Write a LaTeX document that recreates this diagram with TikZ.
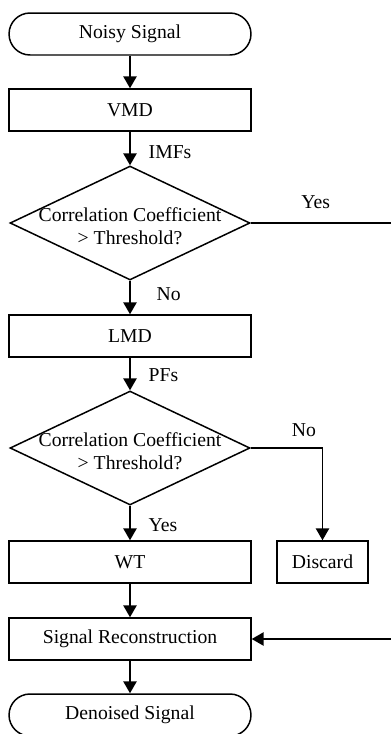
\documentclass[tikz,border=0pt]{standalone}
\usepackage{fontspec}
\setmainfont{Liberation Serif}
\usetikzlibrary{shapes.geometric,arrows.meta,positioning}

\tikzset{
  terminal/.style={draw, line width=0.85pt, rounded corners=0.42cm,
    minimum width=4.84cm, minimum height=0.84cm, inner sep=0pt},
  process/.style={draw, line width=0.85pt,
    minimum width=4.84cm, minimum height=0.84cm, inner sep=0pt},
  decision/.style={draw, diamond, line width=0.85pt,
    minimum width=4.8cm, minimum height=2.28cm, inner sep=0pt},
  flow/.style={line width=0.85pt, -{Triangle[length=6.8pt,width=7.6pt]}},
  link/.style={line width=0.85pt},
  lbl/.style={inner sep=0pt}
}

\begin{document}
\begin{tikzpicture}[x=0.02cm, y=-0.02cm, font=\fontsize{11.2}{13.2}\selectfont]
                \useasboundingbox (0,0) rectangle (390,734);

                % main column
                \node[terminal] (noisy) at (130,34)  {Noisy Signal};
                \node[process]  (vmd)   at (130,110) {VMD};
                \node[decision] (corr1) at (130,223) {};
                \node[align=center, lbl] (corr1txt) at (130,226)
                    {Correlation Coefficient\\> Threshold?};
                \node[process]  (lmd)   at (130,336) {LMD};
                \node[decision] (corr2) at (130,448) {};
                \node[align=center, lbl] (corr2txt) at (130,451)
                    {Correlation Coefficient\\> Threshold?};
                \node[process]  (wt)    at (130,562) {WT};
                \node[process, minimum width=1.82cm] (discard) at (322.5,562) {Discard};
                \node[process]  (recon) at (130,639) {Signal Reconstruction};
                \node[terminal] (denoised) at (130,715) {Denoised Signal};

                % free ends at the right margin
                \coordinate (yesout) at (392,223);
                \coordinate (yesin)  at (392,639);

                \draw[flow] (noisy) -- (vmd);
                \draw[flow] (vmd) -- node[lbl, right=0.36cm, pos=0.62] (imfs) {IMFs} (corr1);
                \draw[flow] (corr1) -- node[lbl, right=0.52cm, pos=0.4] (no1) {No} (lmd);
                \draw[link] (corr1.east) -- node[lbl, above=0.28cm, pos=0.46] (yes1) {Yes} (yesout);
                \draw[flow] (lmd) -- node[lbl, right=0.36cm, pos=0.55] (pfs) {PFs} (corr2);
                \draw[flow] (corr2.east) -| node[lbl, above=0.22cm, pos=0.37] (no2) {No} (discard);
                \draw[flow] (corr2) -- node[lbl, right=0.36cm, pos=0.55] (yes2) {Yes} (wt);
                \draw[flow] (wt) -- (recon);
                \draw[flow] (yesin) -- (recon);
                \draw[flow] (recon) -- (denoised);
\end{tikzpicture}
\end{document}
